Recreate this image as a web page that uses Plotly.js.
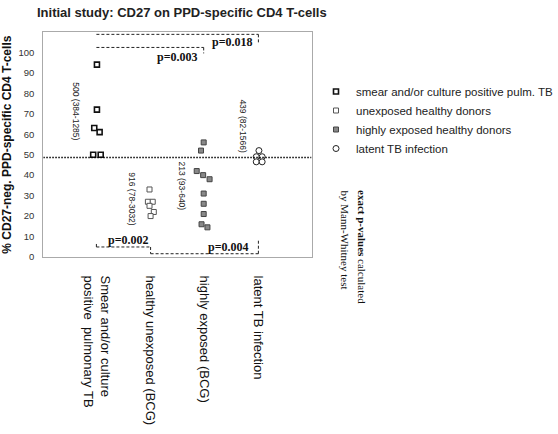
<!DOCTYPE html>
<html>
<head>
<meta charset="utf-8">
<script src="https://cdn.plot.ly/plotly-3.0.1.min.js"></script>
<style>html,body{margin:0;padding:0;background:#fff;}#chart{width:558px;height:434px;}</style>
</head>
<body>
<div id="chart"></div>
<script>
// ---- data ----
var categories = ["Smear and/or culture<br>positive  pulmonary TB", "healthy unexposed (BCG)", "highly exposed (BCG)", "latent TB infection"];
var categoryPos = [1, 2, 3, 4];
var seriesNames = ["smear and/or culture positive pulm. TB", "unexposed healthy donors", "highly exposed healthy donors", "latent TB infection"];

var tbX = [1.0, 1.0, 0.95, 1.05, 0.93, 1.07];
var tbY = [94, 72, 63, 61, 50, 50];

var unexpX = [1.98, 1.95, 2.04, 1.98, 2.06, 2.0];
var unexpY = [33, 27, 27, 25, 22, 20];

var exposedX = [2.99, 2.94, 2.86, 2.98, 3.1, 2.99, 2.99, 2.99, 2.95, 3.06];
var exposedY = [56, 52, 42, 40, 38, 31, 26, 21, 16, 14.5];

var latentX = [4.02, 3.97, 4.08, 3.97, 4.08];
var latentY = [52, 49, 49, 46.5, 46.5];

var medianLabels = ["500 (384-1285)", "916 (78-3032)", "213 (93-640)", "439 (82-1566)"];
var pValues = ["p=0.018", "p=0.003", "p=0.002", "p=0.004"];
var threshold = 48.6;
var yTicks = [0, 10, 20, 30, 40, 50, 60, 70, 80, 90, 100];

// ---- chart ----
var W = 558, H = 434;
function fx(px) { return px / W; }
function fy(py) { return (H - py) / H; }

var traces = [
  {x: tbX, y: tbY, name: seriesNames[0], mode: "markers", type: "scatter",
   marker: {symbol: "square-open", size: 5, color: "#111", line: {width: 1.6, color: "#111"}}},
  {x: unexpX, y: unexpY, name: seriesNames[1], mode: "markers", type: "scatter",
   marker: {symbol: "square", size: 5, color: "#fff", line: {width: 1, color: "#555"}}},
  {x: exposedX, y: exposedY, name: seriesNames[2], mode: "markers", type: "scatter",
   marker: {symbol: "square", size: 5, color: "#888", line: {width: 1, color: "#444"}}},
  {x: latentX, y: latentY, name: seriesNames[3], mode: "markers", type: "scatter",
   marker: {symbol: "circle", size: 6, color: "#fff", line: {width: 1, color: "#222"}}}
];

var dash = {color: "#222", width: 1, dash: "3px,2px"};
function seg(x0, y0, x1, y1) {
  return {type: "line", xref: "x", yref: "y", x0: x0, y0: y0, x1: x1, y1: y1, line: dash};
}
var shapes = [
  {type: "line", xref: "x", yref: "y", x0: 0, x1: 5, y0: threshold, y1: threshold,
   line: {color: "#000", width: 1.5, dash: "1.5px,1.5px"}},
  // p=0.018
  seg(0.99, 108.8, 4.01, 108.8), seg(4.01, 108.8, 4.01, 104.6),
  // p=0.003
  seg(0.99, 102.4, 2.99, 102.4), seg(2.99, 102.4, 2.99, 99.5),
  // p=0.002
  seg(0.99, 4.9, 2.0, 4.9), seg(0.99, 4.9, 0.99, 6.4), seg(2.0, 4.9, 2.0, 1.6),
  // p=0.004
  seg(2.0, 1.6, 4.01, 1.6), seg(4.01, 1.6, 4.01, 8.3)
];

var medFont = {family: "Liberation Sans, Arial, sans-serif", size: 8.5, color: "#222"};
var pFont = {family: "Liberation Serif, Times New Roman, serif", size: 12, color: "#111"};
var noteFont = {family: "Liberation Serif, Times New Roman, serif", size: 11, color: "#111"};
var annotations = [
  {x: 0.61, y: 71.2, text: medianLabels[0]},
  {x: 1.65, y: 28.3, text: medianLabels[1]},
  {x: 2.58, y: 34.6, text: medianLabels[2]},
  {x: 3.72, y: 63.9, text: medianLabels[3]}
].map(function (a) {
  return {x: a.x, y: a.y, xref: "x", yref: "y", text: a.text, textangle: 90, showarrow: false,
          font: medFont, xanchor: "center", yanchor: "middle"};
}).concat([
  {x: 3.53, y: 104.9, text: "<b>" + pValues[0] + "</b>"},
  {x: 2.51, y: 97.6, text: "<b>" + pValues[1] + "</b>"},
  {x: 1.58, y: 8.3, text: "<b>" + pValues[2] + "</b>"},
  {x: 3.46, y: 4.9, text: "<b>" + pValues[3] + "</b>"}
].map(function (a) {
  return {x: a.x, y: a.y, xref: "x", yref: "y", text: a.text, showarrow: false,
          font: pFont, xanchor: "center", yanchor: "middle"};
})).concat([
  {x: fx(362), y: fy(188), xref: "paper", yref: "paper",
   text: "<b>exact p-values</b> calculated", textangle: 90, showarrow: false,
   xanchor: "center", yanchor: "top", font: noteFont},
  {x: fx(345), y: fy(188), xref: "paper", yref: "paper",
   text: "by Mann-Whitney test", textangle: 90, showarrow: false,
   xanchor: "center", yanchor: "top", font: noteFont}
]);

var layout = {
  width: W, height: H,
  margin: {l: 0, r: 0, t: 0, b: 0, pad: 0, autoexpand: false},
  paper_bgcolor: "#fff", plot_bgcolor: "#fff",
  showlegend: true,
  title: {text: "<b>Initial study: CD27 on PPD-specific CD4 T-cells</b>",
          x: fx(37), xanchor: "left", xref: "container",
          y: 1 - 12 / H, yanchor: "middle", yref: "container",
          font: {family: "Liberation Sans, Arial, sans-serif", size: 13, color: "#222"}},
  xaxis: {domain: [fx(43.3), fx(311.5)], range: [0, 5], tickmode: "array",
          tickvals: categoryPos, ticktext: categories,
          tickangle: 90, showgrid: false, zeroline: false, ticks: "", ticklabelstandoff: 15,
          showline: true, mirror: true, linecolor: "#aaa", linewidth: 1,
          tickfont: {family: "Liberation Sans, Arial, sans-serif", size: 13, color: "#111"}},
  yaxis: {domain: [fy(257), fy(32.3)], range: [0, 109.8], tickmode: "array", tickvals: yTicks,
          showgrid: false, zeroline: false, ticks: "", ticklabelstandoff: 6,
          showline: true, mirror: true, linecolor: "#aaa", linewidth: 1,
          tickfont: {family: "Liberation Sans, Arial, sans-serif", size: 9.5, color: "#333"},
          title: {text: "<b>% CD27-neg. PPD-specific CD4 T-cells</b>",
                  font: {family: "Liberation Sans, Arial, sans-serif", size: 12, color: "#111"}}},
  legend: {x: fx(316), xanchor: "left", y: fy(77), yanchor: "top",
           font: {family: "Liberation Sans, Arial, sans-serif", size: 11.5, color: "#222"},
           bgcolor: "rgba(0,0,0,0)", borderwidth: 0, tracegroupgap: 0},
  shapes: shapes,
  annotations: annotations
};

Plotly.newPlot("chart", traces, layout, {displayModeBar: false, staticPlot: true});
</script>
</body>
</html>
